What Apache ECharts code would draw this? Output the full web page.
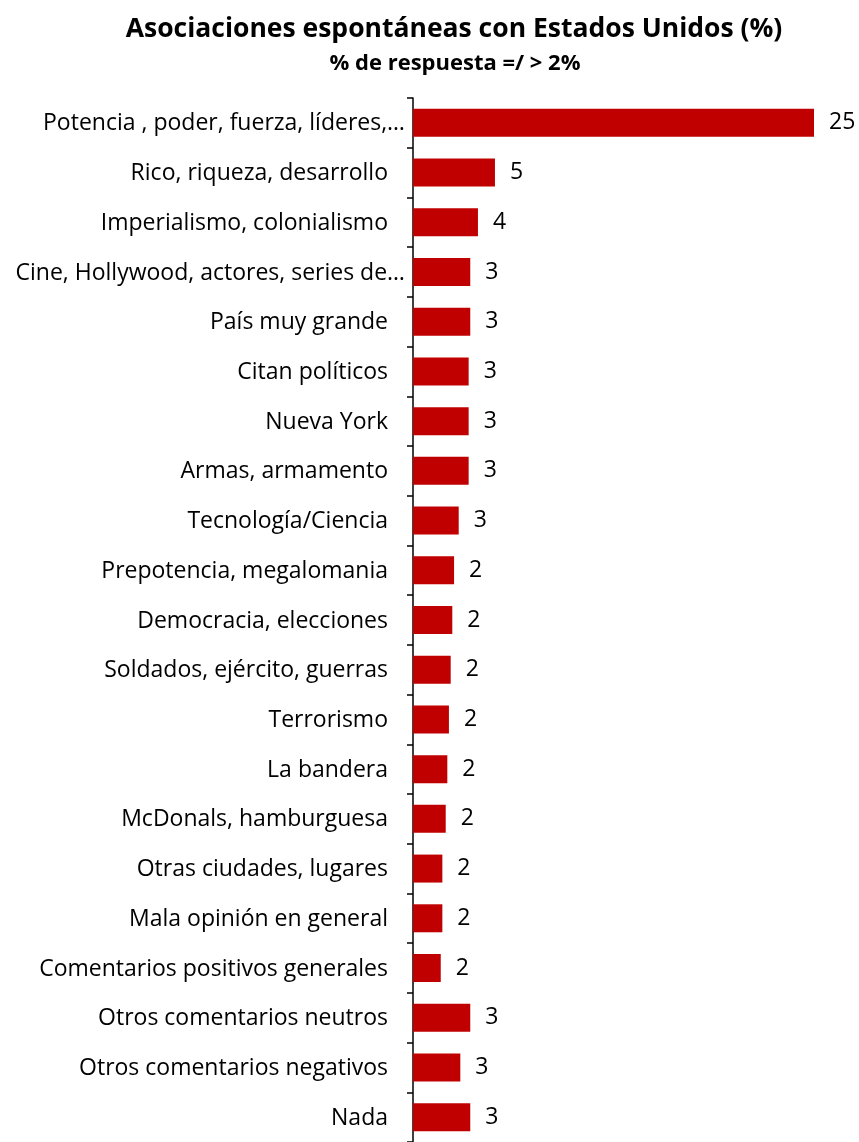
<!DOCTYPE html>
<html>
<head>
<meta charset="utf-8">
<script src="https://cdn.jsdelivr.net/npm/echarts@6/dist/echarts.min.js"></script>
<style>
html,body{margin:0;padding:0;background:#fff;}
#chart{width:859px;height:1142px;}
</style>
</head>
<body>
<div id="chart"></div>
<script>
var titleText = "Asociaciones espontáneas con Estados Unidos (%)";
var subtitleText = "% de respuesta =/ > 2%";
var categories = [
  "Potencia , poder, fuerza, líderes,…",
  "Rico, riqueza, desarrollo",
  "Imperialismo, colonialismo",
  "Cine, Hollywood, actores, series de…",
  "País muy grande",
  "Citan políticos",
  "Nueva York",
  "Armas, armamento",
  "Tecnología/Ciencia",
  "Prepotencia, megalomania",
  "Democracia, elecciones",
  "Soldados, ejército, guerras",
  "Terrorismo",
  "La bandera",
  "McDonals, hamburguesa",
  "Otras ciudades, lugares",
  "Mala opinión en general",
  "Comentarios positivos generales",
  "Otros comentarios neutros",
  "Otros comentarios negativos",
  "Nada"
];
var values = [25, 5.11, 4.05, 3.57, 3.57, 3.47, 3.47, 3.47, 2.85, 2.56, 2.45, 2.35, 2.24, 2.14, 2.04, 1.83, 1.83, 1.73, 3.57, 2.95, 3.57];
var valueLabels = ["25", "5", "4", "3", "3", "3", "3", "3", "3", "2", "2", "2", "2", "2", "2", "2", "2", "2", "3", "3", "3"];

var FONT = "Open Sans";
var LBL = 23;
var chart = echarts.init(document.getElementById('chart'), null, {renderer: 'canvas'});
chart.setOption({
  animation: false,
  backgroundColor: '#ffffff',
  title: [
    {text: titleText, left: 449, top: 11, textAlign: 'center',
     textStyle: {fontFamily: FONT, fontSize: 26.5, fontWeight: 'bold', color: '#000'}},
    {text: subtitleText, left: 450, top: 48, textAlign: 'center',
     textStyle: {fontFamily: FONT, fontSize: 22, fontWeight: 'bold', color: '#000'}}
  ],
  grid: {left: 413, width: 401, top: 98, height: 1050, containLabel: false},
  xAxis: {type: 'value', min: 0, max: 25, show: false},
  yAxis: {
    type: 'category', inverse: true, data: categories,
    axisLine: {show: true, lineStyle: {color: '#000', width: 1.5}},
    axisTick: {show: true, length: 6, lineStyle: {color: '#000', width: 1.5}},
    axisLabel: {
      margin: 8, color: '#000',
      formatter: function (v) {
        return v.indexOf('…') >= 0 ? '{t|' + v + '}' : '{n|' + v + '}';
      },
      rich: {
        n: {fontFamily: FONT, fontSize: LBL, color: '#000', padding: [2, 17, 0, 0]},
        t: {fontFamily: FONT, fontSize: LBL, color: '#000', padding: [2, 0, 0, 0]}
      }
    },
    splitLine: {show: false}
  },
  series: [{
    type: 'bar', data: values, barWidth: 28,
    itemStyle: {color: '#C00000'},
    label: {show: true, position: 'right', distance: 15, padding: [4, 0, 0, 0],
      fontFamily: FONT, fontSize: LBL, color: '#000',
      formatter: function (p) { return valueLabels[p.dataIndex]; }}
  }]
});
</script>
</body>
</html>
